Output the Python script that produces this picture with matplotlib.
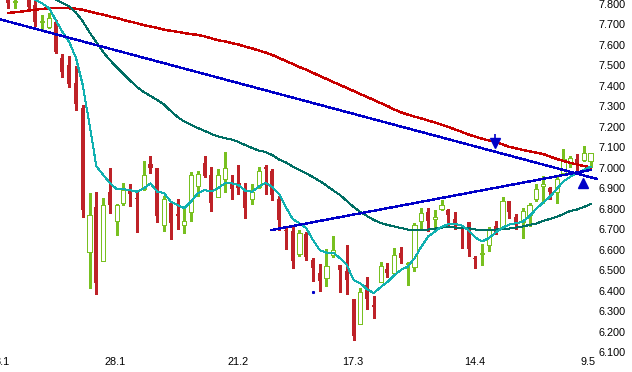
import numpy as np
import matplotlib
matplotlib.use("Agg")
import matplotlib.pyplot as plt

nan = np.nan
# ---- OHLC data (one candle per trading day) ----
opens = [7.83, 7.809, nan, 7.83, 7.795, 7.711, 7.689, 7.714, 7.535, 7.502,
         7.416, 7.290, 6.587, 6.810, 6.546, 6.883, 6.741, 6.829, 6.888, 6.853,
         6.895, 7.018, 7.000, 6.722, 6.829, 6.774, 6.719, 6.785, 6.911, 7.022,
         6.965, 6.859, 6.944, 6.932, 6.927, 6.886, 6.846, 6.905, 7.005, 6.984,
         6.846, 6.696, 6.691, 6.577, 6.675, 6.549, 6.487, 6.460, 6.574, 6.525,
         6.497, 6.359, 6.235, 6.427, 6.330, 6.440, 6.506, 6.484, 6.585, 6.530,
         6.514, 6.741, 6.783, 6.748, 6.797, 6.794, 6.750, 6.712, 6.734, 6.558,
         6.579, 6.623, 6.716, 6.699, 6.839, 6.758, 6.734, 6.769, 6.847, 6.911,
         6.903, 6.883, 6.976, 7.030, 7.043, 7.038, 7.035]
highs = [7.84, 7.83, nan, 7.84, 7.82, 7.746, 7.755, 7.722, 7.556, 7.546,
         7.497, 7.307, 6.878, 6.883, 6.851, 7.000, 6.823, 6.927, 6.921, 6.883,
         7.033, 7.057, 7.000, 6.862, 6.839, 6.846, 6.803, 6.979, 6.986, 7.057,
         7.002, 6.993, 7.076, 6.965, 7.014, 6.924, 6.921, 7.005, 7.014, 6.995,
         6.862, 6.709, 6.709, 6.696, 6.685, 6.561, 6.530, 6.602, 6.667, 6.525,
         6.621, 6.359, 6.414, 6.465, 6.375, 6.541, 6.533, 6.607, 6.612, 6.541,
         6.732, 6.802, 6.802, 6.794, 6.843, 6.797, 6.782, 6.717, 6.734, 6.569,
         6.626, 6.712, 6.740, 6.856, 6.839, 6.773, 6.802, 6.829, 6.921, 6.960,
         6.908, 6.960, 7.090, 7.057, 7.067, 7.106, 7.074]
lows = [7.779, 7.779, nan, 7.779, 7.693, 7.678, 7.681, 7.559, 7.445, 7.396,
        7.282, 6.758, 6.414, 6.382, 6.546, 6.778, 6.672, 6.818, 6.813, 6.688,
        6.891, 6.973, 6.737, 6.693, 6.651, 6.699, 6.683, 6.741, 6.864, 6.953,
        6.790, 6.856, 6.883, 6.846, 6.872, 6.753, 6.822, 6.900, 6.872, 6.843,
        6.696, 6.603, 6.512, 6.569, 6.549, 6.447, 6.398, 6.422, 6.566, 6.395,
        6.383, 6.159, 6.235, 6.309, 6.268, 6.440, 6.465, 6.480, 6.536, 6.426,
        6.496, 6.699, 6.693, 6.696, 6.794, 6.712, 6.699, 6.607, 6.567, 6.512,
        6.524, 6.595, 6.675, 6.699, 6.753, 6.699, 6.655, 6.716, 6.839, 6.826,
        6.847, 6.826, 6.973, 7.005, 6.973, 7.033, 7.005]
closes = [7.806, 7.813, nan, 7.787, 7.714, 7.717, 7.730, 7.567, 7.469, 7.409,
          7.311, 6.794, 6.769, 6.439, 6.818, 6.818, 6.818, 6.891, 6.872, 6.848,
          6.965, 7.000, 6.766, 6.846, 6.732, 6.764, 6.740, 6.965, 6.970, 6.961,
          6.829, 6.965, 6.997, 6.895, 6.903, 6.805, 6.880, 6.984, 6.995, 6.866,
          6.745, 6.691, 6.546, 6.680, 6.566, 6.512, 6.447, 6.520, 6.598, 6.500,
          6.452, 6.178, 6.392, 6.359, 6.322, 6.520, 6.487, 6.574, 6.559, 6.536,
          6.720, 6.778, 6.741, 6.761, 6.818, 6.771, 6.720, 6.704, 6.603, 6.554,
          6.585, 6.699, 6.685, 6.839, 6.785, 6.729, 6.790, 6.818, 6.896, 6.921,
          6.883, 6.944, 7.041, 7.046, 7.014, 7.071, 7.071]

# ---- moving averages (values per candle) ----
ma_short = [nan, nan, nan, 7.850, 7.820, 7.803, 7.780, 7.722, 7.663, 7.614,
            7.536, 7.404, 7.209, 7.009, 6.965, 6.926, 6.896, 6.895, 6.891, 6.883,
            6.899, 6.924, 6.883, 6.877, 6.834, 6.817, 6.803, 6.836, 6.875, 6.891,
            6.884, 6.901, 6.924, 6.924, 6.916, 6.888, 6.883, 6.908, 6.927, 6.906,
            6.872, 6.808, 6.750, 6.729, 6.706, 6.647, 6.598, 6.585, 6.585, 6.558,
            6.525, 6.452, 6.436, 6.406, 6.388, 6.417, 6.442, 6.474, 6.501, 6.517,
            6.558, 6.614, 6.664, 6.688, 6.712, 6.724, 6.725, 6.718, 6.694, 6.659,
            6.640, 6.657, 6.684, 6.707, 6.723, 6.729, 6.737, 6.764, 6.800, 6.830,
            6.858, 6.896, 6.933, 6.956, 6.973, 6.989, 7.005]
ma_mid = [nan, nan, nan, nan, nan, nan, 7.840, 7.822, 7.805, 7.788,
          7.758, 7.715, 7.661, 7.614, 7.566, 7.526, 7.492, 7.458, 7.426, 7.395,
          7.370, 7.351, 7.331, 7.309, 7.277, 7.248, 7.226, 7.209, 7.194, 7.180,
          7.165, 7.153, 7.145, 7.138, 7.126, 7.111, 7.097, 7.084, 7.077, 7.062,
          7.040, 7.026, 7.006, 6.989, 6.972, 6.955, 6.935, 6.913, 6.889, 6.867,
          6.838, 6.808, 6.784, 6.764, 6.745, 6.730, 6.721, 6.713, 6.706, 6.698,
          6.696, 6.696, 6.698, 6.703, 6.708, 6.711, 6.708, 6.708, 6.706, 6.698,
          6.696, 6.696, 6.698, 6.701, 6.703, 6.708, 6.713, 6.721, 6.728, 6.740,
          6.750, 6.760, 6.774, 6.789, 6.796, 6.808, 6.823]
ma_long = [7.756, 7.760, 7.763, 7.768, 7.772, 7.776, 7.779, 7.779, 7.779, 7.779,
           7.777, 7.772, 7.763, 7.755, 7.748, 7.739, 7.732, 7.722, 7.714, 7.706,
           7.697, 7.690, 7.683, 7.675, 7.669, 7.664, 7.658, 7.653, 7.649, 7.642,
           7.632, 7.623, 7.617, 7.609, 7.602, 7.592, 7.583, 7.573, 7.563, 7.551,
           7.536, 7.522, 7.507, 7.492, 7.479, 7.464, 7.448, 7.434, 7.419, 7.404,
           7.390, 7.375, 7.360, 7.346, 7.331, 7.316, 7.302, 7.285, 7.271, 7.260,
           7.250, 7.241, 7.231, 7.221, 7.210, 7.199, 7.187, 7.175, 7.162, 7.152,
           7.142, 7.133, 7.125, 7.114, 7.102, 7.095, 7.087, 7.080, 7.074, 7.067,
           7.055, 7.043, 7.033, 7.024, 7.016, 7.009, 7.001]

# ---- trend lines and signals ----
trend_down_x = [-2.0, 87.1]
trend_down_y = [7.732, 6.944]
trend_up_x = [38.9, 86.07]
trend_up_y = [6.696, 6.990]
sell_x, sell_y = [71.9], [7.120]
buy_x, buy_y = [84.9], [6.928]
dot_x, dot_y = [45.0], [6.395]

xtick_pos = [-0.88, 15.82, 33.93, 50.95, 68.9, 85.7]
xtick_labels = ["3.1", "28.1", "21.2", "17.3", "14.4", "9.5"]
ytick_vals = [6.1, 6.2, 6.3, 6.4, 6.5, 6.6, 6.7, 6.8, 6.9, 7.0,
              7.1, 7.2, 7.3, 7.4, 7.5, 7.6, 7.7, 7.8]

RED = "#BE2228"
GREEN = "#78C020"
LRED = "#C80000"
CYAN = "#10B0B0"
TEAL = "#006E64"
BLUE = "#0000C8"

plt.rcParams["font.family"] = ["Liberation Sans", "DejaVu Sans"]
fig = plt.figure(figsize=(6.32, 3.72), dpi=100)
W, H = 632, 372
ax = fig.add_axes([0, (H - 356) / H, 598 / W, 356 / H])
for s in ax.spines.values():
    s.set_visible(False)

o = np.array(opens); hi = np.array(highs); lo = np.array(lows); c = np.array(closes)
x = np.arange(len(o))
valid = ~np.isnan(o)
up = (c >= o) & valid
dn = (c < o) & valid

ax.vlines(x[valid], lo[valid], hi[valid],
          colors=[GREEN if u else RED for u in up[valid]], lw=0.75,
          zorder=2, antialiased=False)
bh = np.maximum(np.abs(c - o), 0.006)
bl = np.minimum(o, c)
ax.bar(x[dn], bh[dn], bottom=bl[dn], width=0.6, color=RED, lw=0,
       zorder=3, antialiased=False)
ax.bar(x[up], bh[up], bottom=bl[up], width=0.62, facecolor="white",
       edgecolor=GREEN, lw=0.72, zorder=3, antialiased=False)

ax.plot(x, ma_long, color=LRED, lw=1.0, zorder=4, antialiased=False)
ax.plot(x, ma_mid, color=TEAL, lw=0.72, zorder=4, antialiased=False)
ax.plot(x, ma_short, color=CYAN, lw=0.72, zorder=4, antialiased=False)
ax.plot(trend_down_x, trend_down_y, color=BLUE, lw=1.0, zorder=5, antialiased=False)
ax.plot(trend_up_x, trend_up_y, color=BLUE, lw=1.0, zorder=5, antialiased=False)
ax.plot(sell_x, sell_y, marker="v", ms=7, color=BLUE, ls="none", zorder=6)
ax.plot(sell_x, [sell_y[0] + 0.03], marker="|", ms=5, mew=1.2, color=BLUE, ls="none", zorder=6)
ax.plot(buy_x, buy_y, marker="^", ms=7, color=BLUE, ls="none", zorder=6)
ax.plot(dot_x, dot_y, marker="s", ms=1.2, color=BLUE, ls="none", zorder=6)

ax.set_xlim(-1.226, 87.105)
ax.set_ylim(6.0805, 7.8195)
ax.yaxis.tick_right()
ax.set_yticks(ytick_vals)
ax.set_yticklabels([f"{v:.3f}" for v in ytick_vals])
ax.set_xticks(xtick_pos)
ax.set_xticklabels(xtick_labels)
ax.tick_params(axis="both", length=0, labelsize=7.8, colors="black")
ax.tick_params(axis="y", pad=0.5)
ax.tick_params(axis="x", pad=1)

fig.savefig("out.png", dpi=100, facecolor="white")
